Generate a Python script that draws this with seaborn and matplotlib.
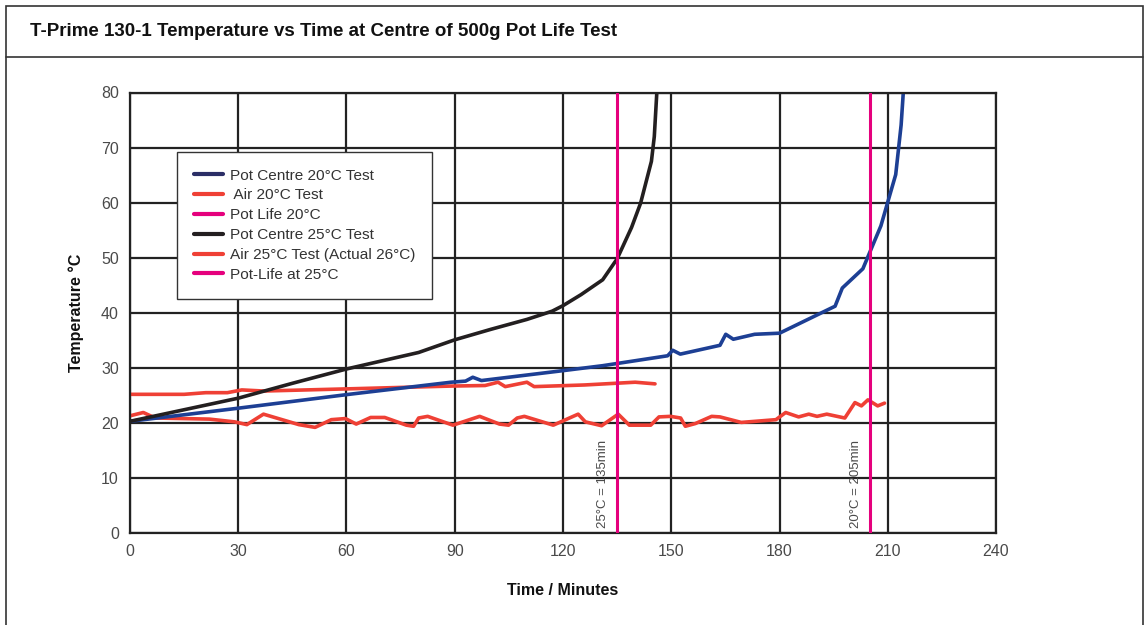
import matplotlib
matplotlib.use("Agg")
import matplotlib.pyplot as plt
import seaborn as sns
from matplotlib.lines import Line2D
from matplotlib.patches import Rectangle

# Pot centre 25C test (black)
t_pot25 = [0, 15, 30, 45, 60, 70, 80, 90, 100, 110, 117, 120, 125, 131, 135, 139, 141.5, 144.5, 145.3, 146]
T_pot25 = [20.3, 22.4, 24.5, 27.2, 29.8, 31.3, 32.8, 35.1, 37.0, 38.8, 40.3, 41.3, 43.3, 46.0, 49.8, 55.5, 59.9, 67.5, 72.0, 80.0]

# Pot centre 20C test (blue)
t_pot20 = [0, 29, 60.7, 89, 93, 95, 97.4, 120, 131, 149, 150.4, 152.5, 163.5, 165.1, 167.2, 173.1, 180, 195.4, 197.4, 203.1, 208.1, 212.2, 213.7, 214.3]
T_pot20 = [20.3, 22.6, 25.2, 27.4, 27.6, 28.3, 27.7, 29.5, 30.4, 32.2, 33.2, 32.5, 34.1, 36.1, 35.2, 36.1, 36.3, 41.2, 44.5, 48.0, 55.8, 65.1, 74.1, 80.0]

# Air 25C test (actual 26C)
t_air25 = [0, 15, 21, 27, 31, 37, 60.7, 89, 98.4, 102, 104, 110, 112, 126, 140, 145.5]
T_air25 = [25.2, 25.2, 25.5, 25.5, 26.0, 25.8, 26.2, 26.7, 26.8, 27.4, 26.6, 27.4, 26.6, 26.9, 27.4, 27.1]

# Air 20C test
t_air20 = [0, 3.7, 7, 22, 29, 32.4, 37, 46.8, 51.3, 55.8, 59.7, 62.7, 66.7, 70.6, 76.6, 78.6, 80, 82.5,
           89.5, 96.9, 102.4, 104.9, 107.3, 109.3, 117.3, 124.2, 126.2, 130.7, 135.3, 138.4, 144.3, 146.6,
           149.8, 152.6, 153.9, 156.7, 161.2, 163.5, 169.4, 179, 181.7, 185.3, 188.1, 190.4, 193.1, 198.1,
           200.9, 202.7, 204.5, 207.2, 209.1]
T_air20 = [21.3, 21.9, 20.9, 20.7, 20.2, 19.7, 21.6, 19.7, 19.2, 20.6, 20.8, 19.8, 21.0, 21.0, 19.6, 19.4, 20.9, 21.2,
           19.6, 21.2, 19.8, 19.6, 20.9, 21.2, 19.6, 21.6, 20.2, 19.5, 21.6, 19.6, 19.6, 21.1,
           21.2, 20.9, 19.4, 19.9, 21.2, 21.1, 20.1, 20.6, 21.9, 21.1, 21.6, 21.2, 21.6, 20.9,
           23.7, 23.1, 24.2, 23.1, 23.6]

pot_life_25 = 135
pot_life_20 = 205

x_ticks = [0, 30, 60, 90, 120, 150, 180, 210, 240]
y_ticks = [0, 10, 20, 30, 40, 50, 60, 70, 80]

blue = "#1d3f94"
navy = "#2b2e66"
red = "#ef4035"
pink = "#e5007d"
black = "#231f20"
grey = "#4a4a4a"

sns.set_style("white")
plt.rcParams["font.family"] = ["Liberation Sans", "DejaVu Sans"]

fig = plt.figure(figsize=(11.45, 6.25), dpi=100)
ax = fig.add_axes([0.1135, 0.147, 0.7564, 0.705])

# frame and title bar
fig.patches.append(Rectangle((0.005, -0.01), 0.993, 1.0, transform=fig.transFigure,
                             fill=False, edgecolor="#333333", linewidth=1.2))
fig.add_artist(Line2D([0.005, 0.998], [1 - 57 / 625, 1 - 57 / 625], transform=fig.transFigure,
                      color="#333333", linewidth=1.2))
fig.text(30 / 1145, 1 - 31 / 625, "T-Prime 130-1 Temperature vs Time at Centre of 500g Pot Life Test",
         fontsize=13.5, fontweight="bold", va="center", ha="left", color="#111111")

sns.lineplot(x=t_air25, y=T_air25, ax=ax, color=red, linewidth=2.6, estimator=None, sort=False)
sns.lineplot(x=t_air20, y=T_air20, ax=ax, color=red, linewidth=2.6, estimator=None, sort=False)
sns.lineplot(x=t_pot20, y=T_pot20, ax=ax, color=blue, linewidth=2.6, estimator=None, sort=False)
sns.lineplot(x=t_pot25, y=T_pot25, ax=ax, color=black, linewidth=2.6, estimator=None, sort=False)

ax.axvline(pot_life_25, color=pink, linewidth=2.2, zorder=3)
ax.axvline(pot_life_20, color=pink, linewidth=2.2, zorder=3)
ax.text(pot_life_25 - 3.8, 1.0, "25°C = 135min", rotation=90, ha="center", va="bottom",
        fontsize=9.5, color=grey)
ax.text(pot_life_20 - 3.8, 1.0, "20°C = 205min", rotation=90, ha="center", va="bottom",
        fontsize=9.5, color=grey)

ax.set_xlim(0, 240)
ax.set_ylim(0, 80)
ax.set_xticks(x_ticks)
ax.set_yticks(y_ticks)
ax.grid(True, color="#222222", linewidth=1.6)
ax.set_axisbelow(True)
for s in ax.spines.values():
    s.set_color("#222222")
    s.set_linewidth(1.6)
ax.tick_params(axis="both", direction="out", length=6, width=1.6, color="#222222",
               labelsize=11.5, labelcolor=grey, pad=2)

ax.set_xlabel("Time / Minutes", fontsize=11.5, fontweight="bold", labelpad=17, color="#111111")
ax.set_ylabel("Temperature °C", fontsize=11.5, fontweight="bold", labelpad=12, color="#111111")

handles = [
    Line2D([], [], color=navy, linewidth=3),
    Line2D([], [], color=red, linewidth=3),
    Line2D([], [], color=pink, linewidth=3),
    Line2D([], [], color=black, linewidth=3),
    Line2D([], [], color=red, linewidth=3),
    Line2D([], [], color=pink, linewidth=3),
]
labels = ["Pot Centre 20°C Test", " Air 20°C Test", "Pot Life 20°C", "Pot Centre 25°C Test",
          "Air 25°C Test (Actual 26°C)", "Pot-Life at 25°C"]
leg = ax.legend(handles, labels, loc="upper left", bbox_to_anchor=(0.054, 0.866), fontsize=11.1,
                frameon=True, fancybox=False, edgecolor="#333333", framealpha=1,
                handlelength=1.9, handletextpad=0.45, labelspacing=0.38, borderpad=1.1,
                borderaxespad=0)
leg.get_frame().set_linewidth(1.0)
for txt in leg.get_texts():
    txt.set_color("#333333")

fig.savefig("out.png", dpi=100)
